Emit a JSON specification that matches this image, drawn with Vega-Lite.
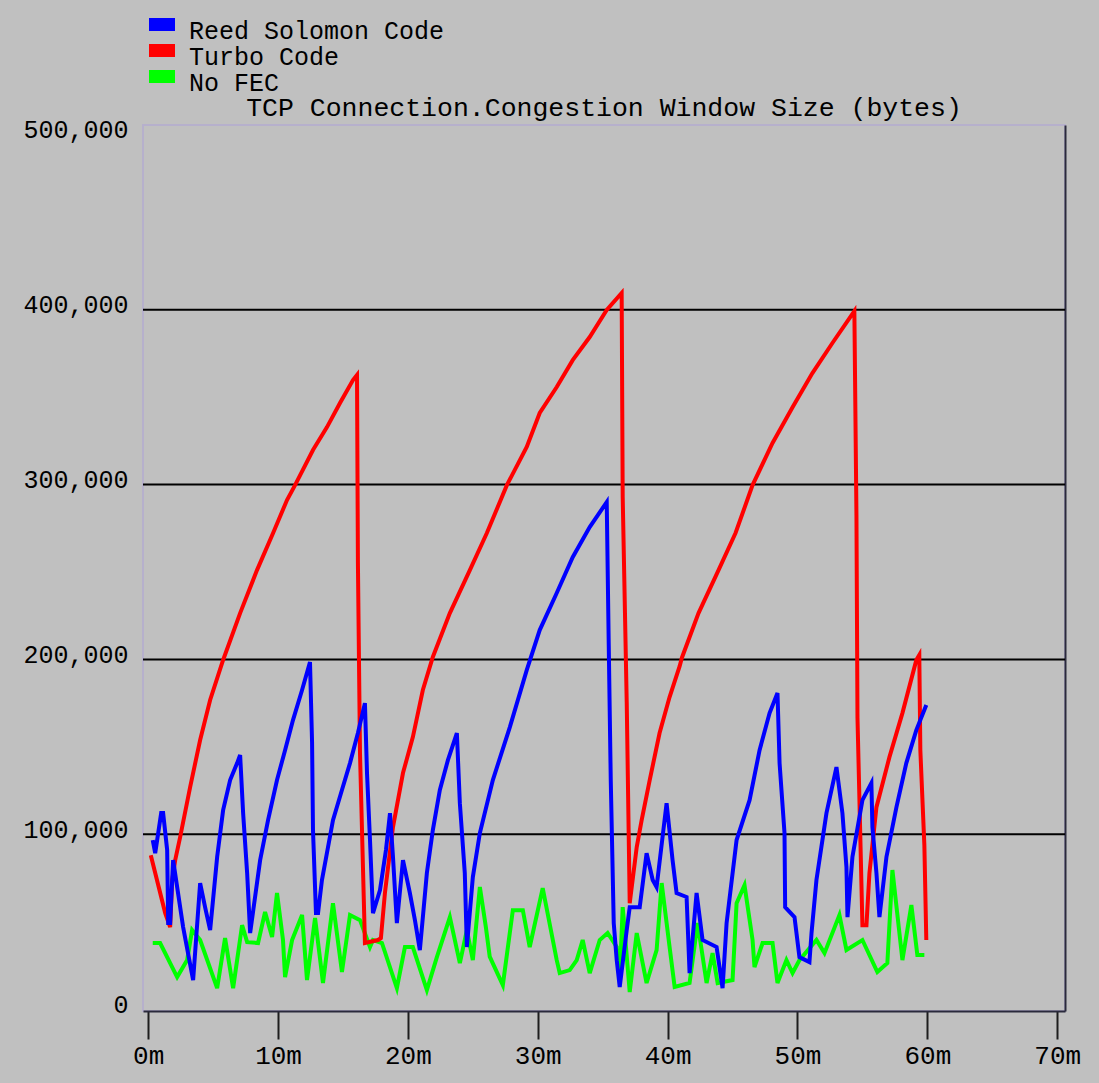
{
  "$schema": "https://vega.github.io/schema/vega-lite/v6.json",
  "width": 922,
  "height": 886,
  "autosize": {"type": "none"},
  "padding": {"left": 143, "top": 125, "right": 34, "bottom": 72},
  "background": "#c0c0c0",
  "config": {
    "font": "Liberation Mono",
    "view": {"stroke": "#b6b0cc", "strokeWidth": 2},
    "axis": {"labelFont": "Liberation Mono", "labelFontSize": 25, "labelColor": "#000000", "title": null}
  },
  "title": {
    "text": "TCP Connection.Congestion Window Size (bytes)",
    "font": "Liberation Mono", "fontSize": 26.5, "fontWeight": "normal", "color": "#000000",
    "anchor": "middle", "frame": "group", "offset": -103
  },
  "datasets": {
    "grid": [{"v": 100000}, {"v": 200000}, {"v": 300000}, {"v": 400000}],
    "cwnd": [
      {"series":"No FEC","t":0.35,"v":37800},{"series":"No FEC","t":0.92,"v":37800},{"series":"No FEC","t":2.23,"v":18300},{"series":"No FEC","t":3.0,"v":28000},{"series":"No FEC","t":3.38,"v":45200},{"series":"No FEC","t":4.0,"v":39500},{"series":"No FEC","t":5.31,"v":12000},{"series":"No FEC","t":5.92,"v":40600},{"series":"No FEC","t":6.54,"v":12000},{"series":"No FEC","t":7.23,"v":48000},{"series":"No FEC","t":7.62,"v":38300},{"series":"No FEC","t":8.46,"v":37800},{"series":"No FEC","t":9.0,"v":55500},{"series":"No FEC","t":9.54,"v":41200},{"series":"No FEC","t":9.92,"v":66400},{"series":"No FEC","t":10.38,"v":39500},{"series":"No FEC","t":10.54,"v":18300},{"series":"No FEC","t":11.08,"v":39500},{"series":"No FEC","t":11.85,"v":53800},{"series":"No FEC","t":12.23,"v":16600},{"series":"No FEC","t":12.85,"v":52100},{"series":"No FEC","t":13.46,"v":14900},{"series":"No FEC","t":14.23,"v":60600},{"series":"No FEC","t":14.92,"v":21200},{"series":"No FEC","t":15.54,"v":53800},{"series":"No FEC","t":16.31,"v":50900},{"series":"No FEC","t":17.08,"v":35500},{"series":"No FEC","t":17.31,"v":39500},{"series":"No FEC","t":18.0,"v":37800},{"series":"No FEC","t":19.15,"v":12000},{"series":"No FEC","t":19.77,"v":35500},{"series":"No FEC","t":20.38,"v":35500},{"series":"No FEC","t":21.46,"v":10900},{"series":"No FEC","t":22.23,"v":29700},{"series":"No FEC","t":23.23,"v":52600},{"series":"No FEC","t":24.0,"v":26300},{"series":"No FEC","t":24.54,"v":45200},{"series":"No FEC","t":25.0,"v":28000},{"series":"No FEC","t":25.54,"v":69800},{"series":"No FEC","t":26.0,"v":47000},{"series":"No FEC","t":26.3,"v":30000},{"series":"No FEC","t":27.31,"v":13700},{"series":"No FEC","t":28.08,"v":56600},{"series":"No FEC","t":28.85,"v":56600},{"series":"No FEC","t":29.38,"v":35500},{"series":"No FEC","t":30.38,"v":69200},{"series":"No FEC","t":31.46,"v":28000},{"series":"No FEC","t":31.69,"v":20600},{"series":"No FEC","t":32.46,"v":22300},{"series":"No FEC","t":33.0,"v":28000},{"series":"No FEC","t":33.46,"v":39500},{"series":"No FEC","t":34.0,"v":20600},{"series":"No FEC","t":34.77,"v":39500},{"series":"No FEC","t":35.38,"v":43500},{"series":"No FEC","t":36.08,"v":35500},{"series":"No FEC","t":36.31,"v":16600},{"series":"No FEC","t":36.54,"v":58300},{"series":"No FEC","t":37.08,"v":9700},{"series":"No FEC","t":37.62,"v":43500},{"series":"No FEC","t":38.38,"v":14900},{"series":"No FEC","t":39.15,"v":33700},{"series":"No FEC","t":39.54,"v":72100},{"series":"No FEC","t":40.15,"v":35500},{"series":"No FEC","t":40.54,"v":12600},{"series":"No FEC","t":41.69,"v":14900},{"series":"No FEC","t":42.31,"v":49200},{"series":"No FEC","t":43.0,"v":14900},{"series":"No FEC","t":43.46,"v":32000},{"series":"No FEC","t":43.85,"v":14900},{"series":"No FEC","t":45.0,"v":16600},{"series":"No FEC","t":45.31,"v":60600},{"series":"No FEC","t":45.92,"v":70900},{"series":"No FEC","t":46.54,"v":39500},{"series":"No FEC","t":46.69,"v":24000},{"series":"No FEC","t":47.31,"v":37800},{"series":"No FEC","t":48.08,"v":37800},{"series":"No FEC","t":48.46,"v":14900},{"series":"No FEC","t":49.15,"v":28000},{"series":"No FEC","t":49.62,"v":20600},{"series":"No FEC","t":50.15,"v":28000},{"series":"No FEC","t":51.46,"v":39500},{"series":"No FEC","t":52.08,"v":32000},{"series":"No FEC","t":53.23,"v":53800},{"series":"No FEC","t":53.77,"v":33800},{"series":"No FEC","t":55.0,"v":39500},{"series":"No FEC","t":56.15,"v":21200},{"series":"No FEC","t":56.92,"v":26300},{"series":"No FEC","t":57.31,"v":79500},{"series":"No FEC","t":58.08,"v":28000},{"series":"No FEC","t":58.77,"v":59500},{"series":"No FEC","t":59.23,"v":30900},{"series":"No FEC","t":59.77,"v":30900},
      {"series":"Turbo Code","t":0.2,"v":88000},{"series":"Turbo Code","t":1.31,"v":54900},{"series":"Turbo Code","t":1.69,"v":46900},{"series":"Turbo Code","t":1.85,"v":73800},{"series":"Turbo Code","t":2.08,"v":85200},{"series":"Turbo Code","t":2.46,"v":98400},{"series":"Turbo Code","t":3.23,"v":127000},{"series":"Turbo Code","t":4.0,"v":153900},{"series":"Turbo Code","t":4.77,"v":176800},{"series":"Turbo Code","t":5.77,"v":199700},{"series":"Turbo Code","t":7.08,"v":226500},{"series":"Turbo Code","t":8.38,"v":251100},{"series":"Turbo Code","t":9.62,"v":272300},{"series":"Turbo Code","t":10.69,"v":291200},{"series":"Turbo Code","t":11.31,"v":299700},{"series":"Turbo Code","t":12.69,"v":319800},{"series":"Turbo Code","t":13.77,"v":332900},{"series":"Turbo Code","t":14.77,"v":346700},{"series":"Turbo Code","t":15.77,"v":359800},{"series":"Turbo Code","t":16.08,"v":362700},{"series":"Turbo Code","t":16.15,"v":255100},{"series":"Turbo Code","t":16.31,"v":146400},{"series":"Turbo Code","t":16.69,"v":37800},{"series":"Turbo Code","t":17.69,"v":39500},{"series":"Turbo Code","t":17.92,"v":40600},{"series":"Turbo Code","t":18.23,"v":66400},{"series":"Turbo Code","t":18.85,"v":104100},{"series":"Turbo Code","t":19.62,"v":135000},{"series":"Turbo Code","t":20.38,"v":155600},{"series":"Turbo Code","t":21.15,"v":182500},{"series":"Turbo Code","t":21.92,"v":201400},{"series":"Turbo Code","t":23.23,"v":226500},{"series":"Turbo Code","t":24.77,"v":251100},{"series":"Turbo Code","t":26.08,"v":272300},{"series":"Turbo Code","t":27.62,"v":299700},{"series":"Turbo Code","t":29.15,"v":321500},{"series":"Turbo Code","t":30.15,"v":341000},{"series":"Turbo Code","t":31.46,"v":355800},{"series":"Turbo Code","t":32.69,"v":371200},{"series":"Turbo Code","t":34.0,"v":384400},{"series":"Turbo Code","t":35.31,"v":399900},{"series":"Turbo Code","t":36.46,"v":409600},{"series":"Turbo Code","t":36.54,"v":292900},{"series":"Turbo Code","t":36.85,"v":175600},{"series":"Turbo Code","t":37.08,"v":60600},{"series":"Turbo Code","t":37.62,"v":92700},{"series":"Turbo Code","t":38.0,"v":108100},{"series":"Turbo Code","t":38.62,"v":131000},{"series":"Turbo Code","t":39.38,"v":157900},{"series":"Turbo Code","t":40.15,"v":178500},{"series":"Turbo Code","t":40.92,"v":196000},{"series":"Turbo Code","t":41.1,"v":201000},{"series":"Turbo Code","t":42.38,"v":226500},{"series":"Turbo Code","t":43.92,"v":251100},{"series":"Turbo Code","t":45.23,"v":272300},{"series":"Turbo Code","t":46.54,"v":299700},{"series":"Turbo Code","t":48.08,"v":323800},{"series":"Turbo Code","t":49.62,"v":344300},{"series":"Turbo Code","t":51.15,"v":363800},{"series":"Turbo Code","t":52.69,"v":381000},{"series":"Turbo Code","t":54.38,"v":399300},{"series":"Turbo Code","t":54.54,"v":282600},{"series":"Turbo Code","t":54.62,"v":166500},{"series":"Turbo Code","t":55.0,"v":48000},{"series":"Turbo Code","t":55.31,"v":48000},{"series":"Turbo Code","t":55.54,"v":77800},{"series":"Turbo Code","t":56.08,"v":115500},{"series":"Turbo Code","t":57.08,"v":144100},{"series":"Turbo Code","t":58.08,"v":169300},{"series":"Turbo Code","t":59.15,"v":199600},{"series":"Turbo Code","t":59.38,"v":202500},{"series":"Turbo Code","t":59.46,"v":148200},{"series":"Turbo Code","t":59.77,"v":93800},{"series":"Turbo Code","t":59.92,"v":39500},
      {"series":"Reed Solomon Code","t":0.35,"v":96700},{"series":"Reed Solomon Code","t":0.54,"v":89200},{"series":"Reed Solomon Code","t":1.0,"v":112100},{"series":"Reed Solomon Code","t":1.15,"v":112100},{"series":"Reed Solomon Code","t":1.46,"v":91000},{"series":"Reed Solomon Code","t":1.54,"v":49200},{"series":"Reed Solomon Code","t":1.69,"v":49200},{"series":"Reed Solomon Code","t":1.92,"v":85200},{"series":"Reed Solomon Code","t":2.69,"v":46900},{"series":"Reed Solomon Code","t":3.46,"v":16600},{"series":"Reed Solomon Code","t":4.0,"v":72100},{"series":"Reed Solomon Code","t":4.38,"v":58300},{"series":"Reed Solomon Code","t":4.77,"v":45200},{"series":"Reed Solomon Code","t":5.31,"v":87000},{"series":"Reed Solomon Code","t":5.77,"v":113800},{"series":"Reed Solomon Code","t":6.31,"v":131000},{"series":"Reed Solomon Code","t":6.85,"v":140700},{"series":"Reed Solomon Code","t":7.08,"v":145300},{"series":"Reed Solomon Code","t":7.31,"v":112100},{"series":"Reed Solomon Code","t":7.62,"v":77800},{"series":"Reed Solomon Code","t":7.85,"v":43500},{"series":"Reed Solomon Code","t":8.62,"v":85200},{"series":"Reed Solomon Code","t":9.23,"v":108100},{"series":"Reed Solomon Code","t":9.92,"v":131000},{"series":"Reed Solomon Code","t":10.54,"v":148100},{"series":"Reed Solomon Code","t":11.15,"v":165300},{"series":"Reed Solomon Code","t":11.85,"v":182500},{"series":"Reed Solomon Code","t":12.46,"v":198500},{"series":"Reed Solomon Code","t":12.62,"v":152200},{"series":"Reed Solomon Code","t":12.69,"v":102400},{"series":"Reed Solomon Code","t":12.92,"v":54900},{"series":"Reed Solomon Code","t":13.08,"v":54900},{"series":"Reed Solomon Code","t":13.38,"v":73800},{"series":"Reed Solomon Code","t":14.23,"v":108100},{"series":"Reed Solomon Code","t":14.92,"v":125300},{"series":"Reed Solomon Code","t":15.54,"v":140700},{"series":"Reed Solomon Code","t":16.15,"v":157900},{"series":"Reed Solomon Code","t":16.69,"v":175000},{"series":"Reed Solomon Code","t":16.85,"v":135000},{"series":"Reed Solomon Code","t":17.08,"v":96700},{"series":"Reed Solomon Code","t":17.31,"v":54900},{"series":"Reed Solomon Code","t":17.85,"v":68100},{"series":"Reed Solomon Code","t":18.31,"v":91000},{"series":"Reed Solomon Code","t":18.62,"v":112100},{"series":"Reed Solomon Code","t":18.85,"v":87000},{"series":"Reed Solomon Code","t":19.15,"v":49200},{"series":"Reed Solomon Code","t":19.62,"v":85200},{"series":"Reed Solomon Code","t":20.15,"v":66400},{"series":"Reed Solomon Code","t":20.54,"v":50900},{"series":"Reed Solomon Code","t":20.92,"v":33700},{"series":"Reed Solomon Code","t":21.46,"v":77800},{"series":"Reed Solomon Code","t":21.92,"v":102400},{"series":"Reed Solomon Code","t":22.46,"v":125300},{"series":"Reed Solomon Code","t":23.08,"v":142400},{"series":"Reed Solomon Code","t":23.77,"v":157900},{"series":"Reed Solomon Code","t":24.0,"v":117800},{"series":"Reed Solomon Code","t":24.38,"v":77800},{"series":"Reed Solomon Code","t":24.54,"v":35500},{"series":"Reed Solomon Code","t":25.0,"v":75500},{"series":"Reed Solomon Code","t":25.54,"v":100700},{"series":"Reed Solomon Code","t":26.54,"v":131000},{"series":"Reed Solomon Code","t":27.85,"v":161300},{"series":"Reed Solomon Code","t":29.15,"v":193900},{"series":"Reed Solomon Code","t":30.15,"v":216800},{"series":"Reed Solomon Code","t":31.46,"v":238000},{"series":"Reed Solomon Code","t":32.69,"v":258500},{"series":"Reed Solomon Code","t":34.0,"v":275700},{"series":"Reed Solomon Code","t":35.31,"v":290000},{"series":"Reed Solomon Code","t":35.46,"v":211000},{"series":"Reed Solomon Code","t":35.62,"v":131000},{"series":"Reed Solomon Code","t":35.85,"v":49200},{"series":"Reed Solomon Code","t":36.08,"v":28000},{"series":"Reed Solomon Code","t":36.31,"v":12600},{"series":"Reed Solomon Code","t":36.85,"v":45200},{"series":"Reed Solomon Code","t":37.08,"v":58300},{"series":"Reed Solomon Code","t":37.85,"v":58300},{"series":"Reed Solomon Code","t":38.38,"v":89200},{"series":"Reed Solomon Code","t":38.85,"v":73800},{"series":"Reed Solomon Code","t":39.15,"v":69800},{"series":"Reed Solomon Code","t":39.92,"v":117800},{"series":"Reed Solomon Code","t":40.38,"v":85200},{"series":"Reed Solomon Code","t":40.69,"v":66400},{"series":"Reed Solomon Code","t":41.46,"v":64100},{"series":"Reed Solomon Code","t":41.69,"v":20600},{"series":"Reed Solomon Code","t":42.23,"v":66400},{"series":"Reed Solomon Code","t":42.69,"v":39500},{"series":"Reed Solomon Code","t":43.77,"v":35500},{"series":"Reed Solomon Code","t":44.23,"v":12000},{"series":"Reed Solomon Code","t":44.54,"v":49200},{"series":"Reed Solomon Code","t":45.31,"v":96700},{"series":"Reed Solomon Code","t":46.31,"v":119500},{"series":"Reed Solomon Code","t":47.08,"v":148100},{"series":"Reed Solomon Code","t":47.85,"v":169300},{"series":"Reed Solomon Code","t":48.46,"v":180800},{"series":"Reed Solomon Code","t":48.62,"v":140700},{"series":"Reed Solomon Code","t":49.0,"v":100700},{"series":"Reed Solomon Code","t":49.05,"v":58300},{"series":"Reed Solomon Code","t":49.77,"v":52600},{"series":"Reed Solomon Code","t":50.15,"v":29700},{"series":"Reed Solomon Code","t":50.92,"v":26900},{"series":"Reed Solomon Code","t":51.08,"v":43500},{"series":"Reed Solomon Code","t":51.46,"v":73800},{"series":"Reed Solomon Code","t":52.23,"v":112100},{"series":"Reed Solomon Code","t":53.0,"v":138400},{"series":"Reed Solomon Code","t":53.46,"v":112100},{"series":"Reed Solomon Code","t":53.77,"v":81200},{"series":"Reed Solomon Code","t":53.85,"v":52600},{"series":"Reed Solomon Code","t":54.23,"v":87000},{"series":"Reed Solomon Code","t":55.0,"v":119500},{"series":"Reed Solomon Code","t":55.69,"v":129300},{"series":"Reed Solomon Code","t":55.77,"v":104100},{"series":"Reed Solomon Code","t":56.08,"v":77800},{"series":"Reed Solomon Code","t":56.31,"v":52600},{"series":"Reed Solomon Code","t":56.85,"v":87000},{"series":"Reed Solomon Code","t":57.62,"v":115500},{"series":"Reed Solomon Code","t":58.38,"v":140700},{"series":"Reed Solomon Code","t":59.15,"v":159600},{"series":"Reed Solomon Code","t":59.92,"v":173900}
    ]
  },
  "layer": [
    {
      "data": {"name": "grid"},
      "mark": {"type": "rule", "color": "#000000", "strokeWidth": 2},
      "encoding": {
        "y": {
          "field": "v", "type": "quantitative",
          "scale": {"domain": [-1100, 505700], "nice": false, "zero": false},
          "axis": {"orient": "right", "labels": false, "ticks": false, "grid": false, "domain": true, "domainColor": "#2a2a3c", "domainWidth": 2, "title": null}
        }
      }
    },
    {
      "data": {"name": "cwnd"},
      "mark": {"type": "line", "strokeWidth": 4},
      "encoding": {
        "x": {
          "field": "t", "type": "quantitative",
          "scale": {"domain": [-0.4, 70.6], "nice": false, "zero": false},
          "axis": {"values": [0, 10, 20, 30, 40, 50, 60, 70], "labelExpr": "datum.value + 'm'", "grid": false, "tickSize": 28, "tickWidth": 2, "tickColor": "#1e1e1e", "domainColor": "#2a2a3c", "domainWidth": 2, "labelPadding": 3, "labelFontSize": 26, "labelFlush": false, "labelOverlap": false, "title": null}
        },
        "y": {
          "field": "v", "type": "quantitative",
          "scale": {"domain": [-1100, 505700], "nice": false, "zero": false},
          "axis": {"values": [0, 100000, 200000, 300000, 400000, 500000], "format": ",.0f", "ticks": false, "grid": false, "domain": false, "labelPadding": 15, "labelOffset": -5, "title": null}
        },
        "color": {
          "field": "series", "type": "nominal",
          "scale": {"domain": ["Reed Solomon Code", "Turbo Code", "No FEC"], "range": ["#0000ff", "#ff0000", "#00ff00"]},
          "legend": {
            "orient": "none", "legendX": 6, "legendY": -107, "title": null, "padding": 0,
            "symbolType": "M-1,-1H1V0H-1Z", "symbolSize": 676, "symbolStrokeWidth": 0,
            "labelFont": "Liberation Mono", "labelFontSize": 25, "labelColor": "#000000",
            "rowPadding": 0, "labelOffset": 14, "labelLimit": 600, "direction": "vertical",
            "encode": {
              "symbols": {"update": {"fill": {"scale": "color", "field": "value"}, "strokeWidth": {"value": 0}}}
            }
          }
        }
      }
    }
  ],
  "resolve": {"axis": {"y": "independent"}}
}
